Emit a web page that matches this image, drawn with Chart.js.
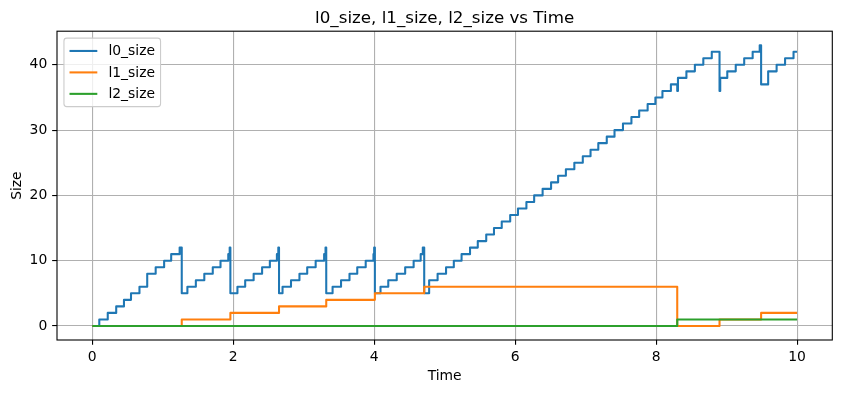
<!DOCTYPE html>
<html>
<head>
<meta charset="utf-8">
<script src="https://cdn.jsdelivr.net/npm/chart.js@4/dist/chart.umd.min.js"></script>
<style>
  html, body { margin: 0; padding: 0; background: #ffffff; }
  #wrap { width: 841px; height: 393px; }
</style>
</head>
<body>
<div id="wrap"><canvas id="c" width="841" height="393"></canvas></div>
<script>
// ---- data ----
const chartTitle = 'l0_size, l1_size, l2_size vs Time';
const xLabel = 'Time';
const yLabel = 'Size';
const xTicks = [0, 2, 4, 6, 8, 10];
const yTicks = [0, 10, 20, 30, 40];

const l0Time = [0, 0.10, 0.22, 0.34, 0.45, 0.55, 0.67, 0.78, 0.90, 1.02, 1.12, 1.24, 1.27,
  1.35, 1.47, 1.59, 1.71, 1.82, 1.93, 1.95, 1.96,
  2.06, 2.17, 2.29, 2.41, 2.52, 2.62, 2.64, 2.65,
  2.70, 2.82, 2.94, 3.05, 3.17, 3.29, 3.31, 3.32,
  3.41, 3.53, 3.65, 3.76, 3.88, 3.99, 4.00, 4.01,
  4.09, 4.20, 4.32, 4.44, 4.56, 4.66, 4.69, 4.71,
  4.78, 4.90, 5.02, 5.13, 5.24, 5.36, 5.47, 5.59, 5.70, 5.81, 5.93, 6.04, 6.16, 6.27, 6.39, 6.51,
  6.61, 6.72, 6.84, 6.96, 7.07, 7.18, 7.30, 7.41, 7.53, 7.65, 7.76, 7.88, 7.99, 8.09, 8.21,
  8.30, 8.31, 8.43, 8.55, 8.67, 8.79, 8.90, 8.91, 9.01, 9.13, 9.25, 9.37, 9.47, 9.49,
  9.59, 9.71, 9.83, 9.95, 10.0];
const l0Size = [0, 1, 2, 3, 4, 5, 6, 8, 9, 10, 11, 12, 5,
  6, 7, 8, 9, 10, 11, 12, 5,
  6, 7, 8, 9, 10, 11, 12, 5,
  6, 7, 8, 9, 10, 11, 12, 5,
  6, 7, 8, 9, 10, 11, 12, 5,
  6, 7, 8, 9, 10, 11, 12, 5,
  7, 8, 9, 10, 11, 12, 13, 14, 15, 16, 17, 18, 19, 20, 21, 22,
  23, 24, 25, 26, 27, 28, 29, 30, 31, 32, 33, 34, 35, 36, 37,
  36, 38, 39, 40, 41, 42, 36, 38, 39, 40, 41, 42, 43, 37,
  39, 40, 41, 42, 42];

const l1Time = [0, 1.27, 1.96, 2.65, 3.32, 4.01, 4.71, 8.30, 8.90, 9.49, 10.0];
const l1Size = [0, 1, 2, 3, 4, 5, 6, 0, 1, 2, 2];

const l2Time = [0, 8.30, 10.0];
const l2Size = [0, 1, 1];

const seriesNames = ['l0_size', 'l1_size', 'l2_size'];
const seriesColors = ['#1f77b4', '#ff7f0e', '#2ca02c'];

// ---- build chart ----
const FONT = '"DejaVu Sans", "Liberation Sans", sans-serif';
const toPts = (t, v) => t.map((x, i) => ({ x: x, y: v[i] }));

const frameLegendTitle = {
  id: 'frameLegendTitle',
  afterDatasetsDraw(chart) {
    const { ctx, chartArea } = chart;
    ctx.save();
    // axes frame (all four spines)
    ctx.strokeStyle = '#000000';
    ctx.lineWidth = 1.1;
    ctx.strokeRect(chartArea.left, chartArea.top, chartArea.right - chartArea.left, chartArea.bottom - chartArea.top);

    // title centred over the axes
    ctx.font = '16.7px ' + FONT;
    ctx.fillStyle = '#000000';
    ctx.textAlign = 'center';
    ctx.textBaseline = 'alphabetic';
    ctx.fillText(chartTitle, (chartArea.left + chartArea.right) / 2, chartArea.top - 8.6);

    // legend (upper left, inside axes)
    const fs = 13.9;
    ctx.font = fs + 'px ' + FONT;
    const ds = chart.data.datasets;
    const pad = 5.56, axPad = 6.95, handleLen = 27.8, textPad = 11.1, spacing = 6.95, rowH = 14.5;
    const textW = Math.max(...ds.map(d => ctx.measureText(d.label).width));
    const w = pad * 2 + handleLen + textPad + textW;
    const h = pad * 2 + rowH * ds.length + spacing * (ds.length - 1);
    const x0 = chartArea.left + axPad, y0 = chartArea.top + axPad;
    ctx.beginPath();
    ctx.roundRect(x0, y0, w, h, 2.8);
    ctx.fillStyle = 'rgba(255,255,255,0.8)';
    ctx.fill();
    ctx.strokeStyle = '#cccccc';
    ctx.lineWidth = 1.1;
    ctx.stroke();
    ds.forEach((d, i) => {
      const cy = y0 + pad + rowH / 2 + i * (rowH + spacing);
      ctx.beginPath();
      ctx.moveTo(x0 + pad, cy);
      ctx.lineTo(x0 + pad + handleLen, cy);
      ctx.strokeStyle = d.borderColor;
      ctx.lineWidth = d.borderWidth;
      ctx.lineCap = 'butt';
      ctx.stroke();
      ctx.fillStyle = '#000000';
      ctx.textBaseline = 'middle';
      ctx.textAlign = 'left';
      ctx.fillText(d.label, x0 + pad + handleLen + textPad, cy + 0.5);
    });
    ctx.restore();
  }
};

const seriesData = [toPts(l0Time, l0Size), toPts(l1Time, l1Size), toPts(l2Time, l2Size)];

new Chart(document.getElementById('c'), {
  type: 'line',
  data: {
    datasets: seriesData.map((pts, i) => ({
      label: seriesNames[i],
      data: pts,
      borderColor: seriesColors[i],
      backgroundColor: seriesColors[i],
      borderWidth: 2.08,
      pointRadius: 0,
      stepped: 'before',
      fill: false,
      borderJoinStyle: 'round',
      order: 3 - i
    }))
  },
  options: {
    responsive: false,
    animation: false,
    devicePixelRatio: 1,
    events: [],
    layout: { padding: { left: 0, right: 8.7, top: 31.2, bottom: 0 } },
    plugins: {
      legend: { display: false },
      tooltip: { enabled: false },
      title: { display: false }
    },
    scales: {
      x: {
        type: 'linear',
        min: -0.5,
        max: 10.5,
        afterBuildTicks: (s) => { s.ticks = xTicks.map(v => ({ value: v })); },
        afterFit: (s) => { s.height = 53; s.paddingLeft = 0; s.paddingRight = 0; },
        grid: { color: '#b0b0b0', lineWidth: 1.1, tickColor: '#000000', tickLength: 4.86, tickWidth: 1.1, drawOnChartArea: true },
        border: { display: false },
        ticks: { color: '#000000', font: { family: FONT, size: 13.9 }, padding: 4.2, maxRotation: 0, autoSkip: false },
        title: { display: true, text: xLabel, color: '#000000', font: { family: FONT, size: 13.9, lineHeight: 1.2 }, padding: { top: 0, bottom: 8.7 } }
      },
      y: {
        type: 'linear',
        min: -2.15,
        max: 45.15,
        afterBuildTicks: (s) => { s.ticks = yTicks.map(v => ({ value: v })); },
        afterFit: (s) => { s.width = 57; s.paddingTop = 0; s.paddingBottom = 0; },
        grid: { color: '#b0b0b0', lineWidth: 1.1, tickColor: '#000000', tickLength: 4.86, tickWidth: 1.1, drawOnChartArea: true },
        border: { display: false },
        ticks: { color: '#000000', font: { family: FONT, size: 13.9 }, padding: 4.86, autoSkip: false },
        title: { display: true, text: yLabel, color: '#000000', font: { family: FONT, size: 13.9, lineHeight: 1.2 }, padding: { top: 8.7, bottom: 0 } }
      }
    }
  },
  plugins: [frameLegendTitle]
});
</script>
</body>
</html>
